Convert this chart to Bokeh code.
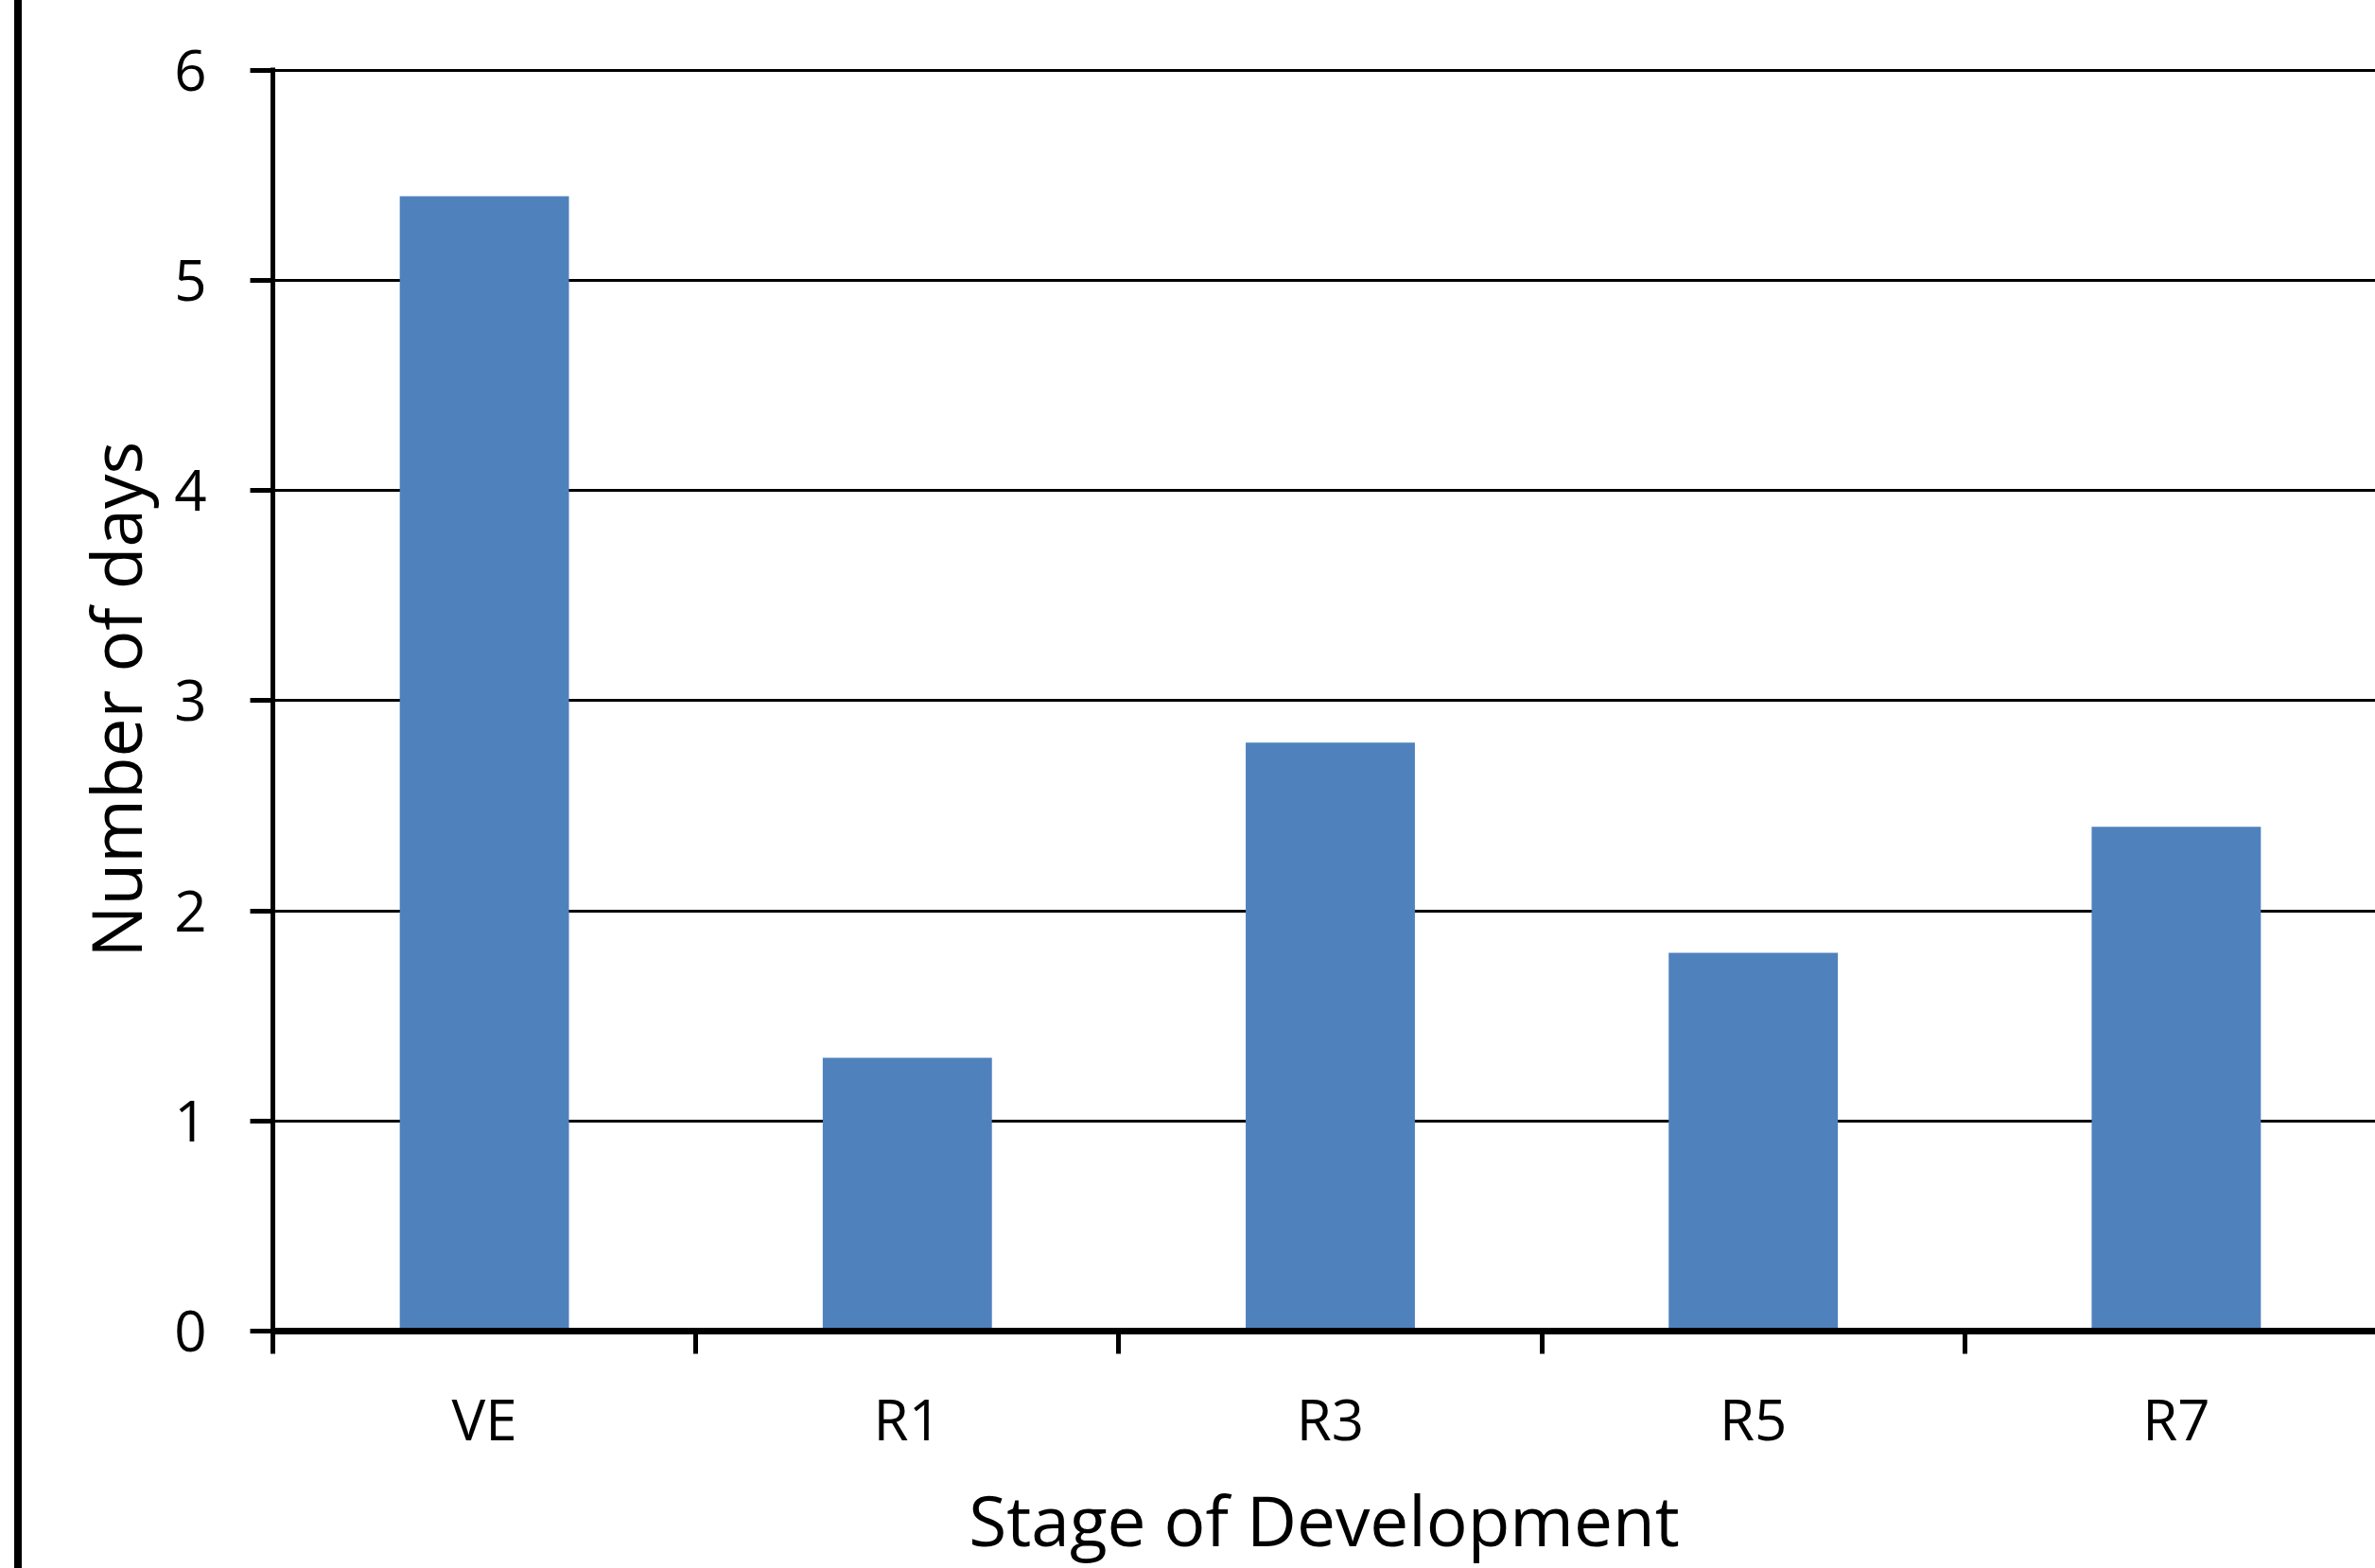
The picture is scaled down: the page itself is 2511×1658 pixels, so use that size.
from bokeh.plotting import figure
from bokeh.models import FixedTicker, Range1d, Spacer
from bokeh.layouts import row
from bokeh.embed import file_html
from bokeh.resources import INLINE

stages = ["VE", "R1", "R3", "R5", "R7"]
days = [5.4, 1.3, 2.8, 1.8, 2.4]
y_ticks = [0, 1, 2, 3, 4, 5, 6]
x_title = "Stage of Development"
y_title = "Number of days"

centers = [i + 0.5 for i in range(len(stages))]
bounds = list(range(len(stages) + 1))

FONT = "Open Sans"

p = figure(width=2488, height=1658,
           x_range=Range1d(0, 4.971), y_range=Range1d(0, 6.012),
           output_backend="svg", toolbar_location=None,
           min_border_left=265, min_border_right=0,
           min_border_top=71, min_border_bottom=249)
p.outline_line_color = None
p.background_fill_color = "white"
p.border_fill_color = "white"

p.vbar(x=centers, top=days, width=0.4, bottom=0,
       fill_color="#4F81BD", line_color=None)

# grid
p.xgrid.visible = False
p.ygrid.ticker = FixedTicker(ticks=y_ticks)
p.ygrid.grid_line_color = "black"
p.ygrid.grid_line_width = 3

# y axis
ya = p.yaxis[0]
ya.ticker = FixedTicker(ticks=y_ticks, minor_ticks=[])
ya.axis_line_color = "black"
ya.axis_line_width = 5
ya.major_tick_line_color = "black"
ya.major_tick_line_width = 5
ya.major_tick_out = 24
ya.major_tick_in = 0
ya.minor_tick_line_color = None
ya.major_label_text_font = FONT
ya.major_label_text_font_size = "60px"
ya.major_label_text_color = "black"
ya.major_label_standoff = 46
ya.axis_label = y_title
ya.axis_label_text_font = FONT
ya.axis_label_text_font_size = "73px"
ya.axis_label_text_font_style = "normal"
ya.axis_label_text_color = "black"
ya.axis_label_standoff = 10

# x axis
xa = p.xaxis[0]
xa.ticker = FixedTicker(ticks=centers, minor_ticks=bounds)
xa.major_label_overrides = {c: s for c, s in zip(centers, stages)}
xa.axis_line_color = "black"
xa.axis_line_width = 7
xa.major_tick_line_color = None
xa.major_tick_out = 0
xa.major_tick_in = 0
xa.minor_tick_line_color = "black"
xa.minor_tick_line_width = 5
xa.minor_tick_out = 24
xa.minor_tick_in = 0
xa.major_label_text_font = FONT
xa.major_label_text_font_size = "60px"
xa.major_label_text_color = "black"
xa.major_label_standoff = 27
xa.axis_label = x_title
xa.axis_label_text_font = FONT
xa.axis_label_text_font_size = "73px"
xa.axis_label_text_font_style = "normal"
xa.axis_label_text_color = "black"
xa.axis_label_standoff = 13

left_gap = Spacer(width=15, height=1658)
border = Spacer(width=8, height=1658, styles={"background-color": "black"})
layout = row(left_gap, border, p)

open("out.html", "w").write(file_html(layout, INLINE))
